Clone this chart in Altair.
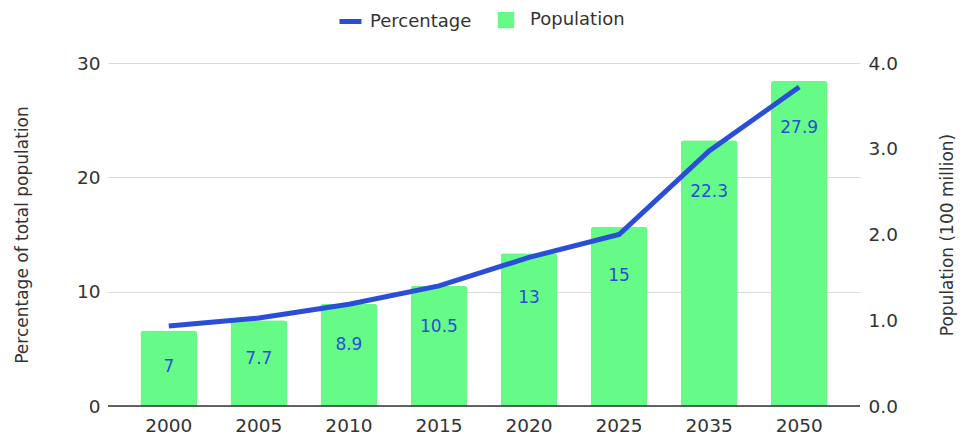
import altair as alt
import pandas as pd

years = ["2000", "2005", "2010", "2015", "2020", "2025", "2035", "2050"]
percentage = [7, 7.7, 8.9, 10.5, 13, 15, 22.3, 27.9]
population = [0.88, 1.00, 1.19, 1.40, 1.78, 2.09, 3.10, 3.79]

df = pd.DataFrame({"year": years, "pct": percentage, "pop": population})

FONT = "DejaVu Sans"
BLUE = "#2a4fd6"
GREEN = "#66fa87"
TXT = "#333333"

x = alt.X("year:N", sort=years, title=None,
          axis=alt.Axis(labelAngle=0, labelFontSize=18.5, labelColor=TXT,
                        labelPadding=10, ticks=False, domain=False,
                        labelFont=FONT),
          scale=alt.Scale(paddingInner=0.37, paddingOuter=0.36))

y_left = alt.Y("pct:Q", title="Percentage of total population",
               scale=alt.Scale(domain=[0, 30]),
               axis=alt.Axis(orient="left", values=[0, 10, 20, 30],
                             labelFontSize=18.5, labelColor=TXT, ticks=False,
                             domain=False, grid=True, gridColor="#d9d9d9",
                             labelPadding=8, titleFontSize=17,
                             titleFontWeight="normal", titleColor=TXT,
                             titlePadding=45, labelFont=FONT, titleFont=FONT))

base = alt.Chart(df)

bars = base.mark_bar(cornerRadiusTopLeft=3, cornerRadiusTopRight=3).encode(
    x=x,
    y=alt.Y("pop:Q", title="Population (100 million)",
            scale=alt.Scale(domain=[0, 4]),
            axis=alt.Axis(orient="right", values=[0, 1, 2, 3, 4], format=".1f",
                          labelFontSize=18.5, labelColor=TXT, ticks=False,
                          domain=False, grid=False, labelPadding=8,
                          titleFontSize=17, titleFontWeight="normal",
                          titleColor=TXT, titlePadding=42, labelFont=FONT,
                          titleFont=FONT, titleAngle=270, titleBaseline="top")),
    fill=alt.Fill("s:N", scale=alt.Scale(domain=["Population"], range=[GREEN]),
                  legend=alt.Legend(title=None, orient="none", legendX=389, legendY=-52,
                                    symbolType="square", padding=0,
                                    symbolSize=270, labelFontSize=18, labelFont=FONT,
                                    labelColor=TXT, symbolStrokeWidth=0, labelOffset=15)),
).transform_calculate(s="'Population'")

line = base.mark_line(strokeWidth=5).encode(
    x=x,
    y=y_left,
    stroke=alt.Stroke("s:N", scale=alt.Scale(domain=["Percentage"], range=[BLUE]),
                      legend=alt.Legend(title=None, orient="none", legendX=229, legendY=-55,
                                        symbolType="stroke", padding=0,
                                        symbolStrokeWidth=5, symbolSize=484,
                                        labelFontSize=18, labelFont=FONT,
                                        labelColor=TXT, labelOffset=6)),
).transform_calculate(s="'Percentage'")

labels = base.mark_text(dy=41, fontSize=17, color=BLUE, font=FONT).encode(
    x=x,
    y=y_left,
    text=alt.Text("pct:Q"),
)

zero_df = pd.DataFrame({"pct": [0]})
baseline = alt.Chart(zero_df).mark_rule(color=TXT, strokeWidth=1.5).encode(
    y=y_left,
)

left = alt.layer(line, labels, baseline)
chart = alt.layer(bars, left).resolve_scale(
    y="independent", fill="independent", stroke="independent"
).properties(
    width=752, height=343,
    padding={"top": 0, "left": 5, "right": 5, "bottom": 5},
).configure_view(stroke=None)

chart.save("out.html", embed_options={"renderer": "svg", "actions": False})
